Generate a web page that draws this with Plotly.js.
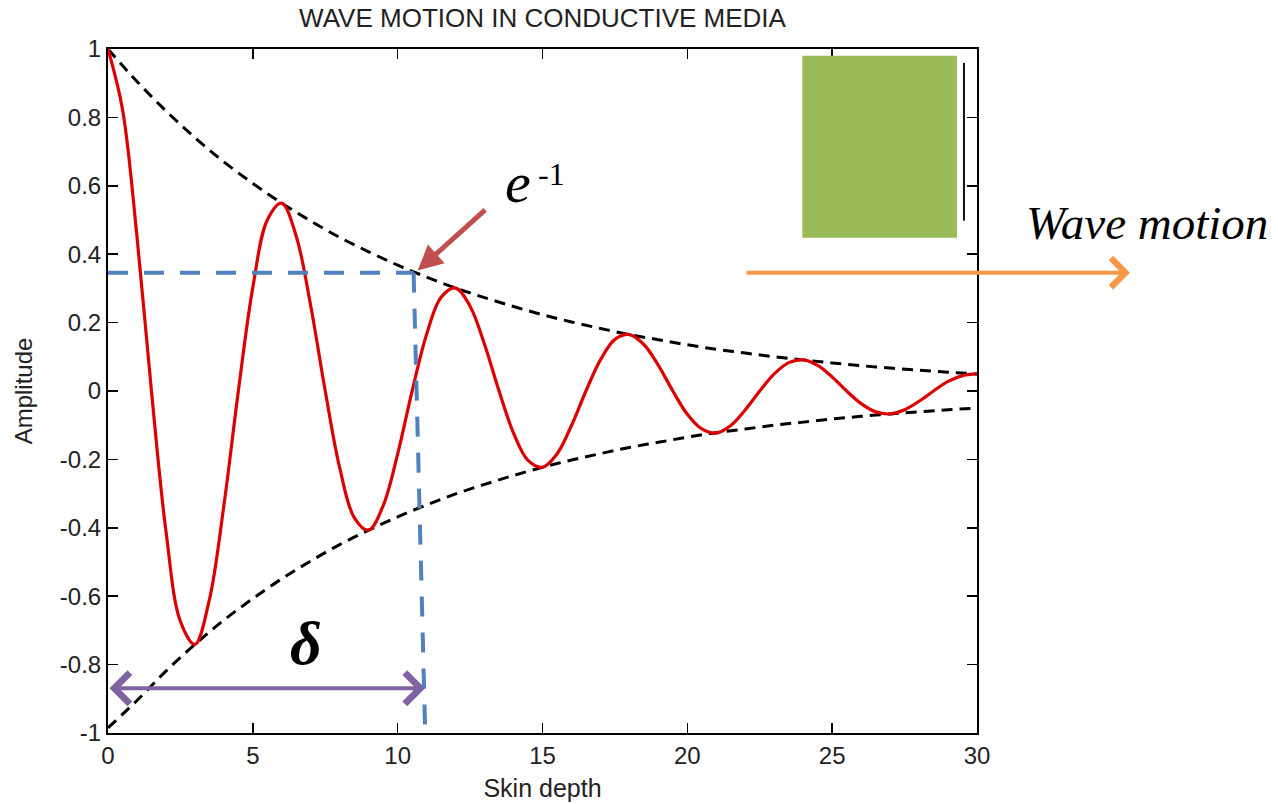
<!DOCTYPE html>
<html>
<head>
<meta charset="utf-8">
<script src="https://cdn.plot.ly/plotly-3.0.1.min.js"></script>
<style>html,body{margin:0;padding:0;background:#fff;}#chart{width:1278px;height:804px;}</style>
</head>
<body>
<div id="chart"></div>
<script>
// Skin depth positions (x) for the red wave
const waveX = [0,0.5,1,1.5,2,2.5,3,3.5,4,4.5,5,5.5,6,6.5,7,7.5,8,8.5,9,9.5,10,10.5,11,11.5,12,12.5,13,13.5,14,14.5,15,15.5,16,16.5,17,17.5,18,18.5,19,19.5,20,20.5,21,21.5,22,22.5,23,23.5,24,24.5,25,25.5,26,26.5,27,27.5,28,28.5,29,29.5,30];
const waveY = [1.00,0.824,0.452,0,-0.409,-0.674,-0.741,-0.610,-0.335,0,0.303,0.500,0.549,0.452,0.248,0,-0.225,-0.370,-0.407,-0.335,-0.184,0,0.166,0.274,0.301,0.248,0.136,0,-0.123,-0.203,-0.223,-0.184,-0.101,0,0.091,0.151,0.165,0.136,0.075,0,-0.068,-0.111,-0.123,-0.101,-0.055,0,0.050,0.083,0.091,0.075,0.041,0,-0.037,-0.061,-0.067,-0.055,-0.030,0,0.028,0.045,0.050];
// Envelope (black dashed)
const envX = [0,1,2,3,4,5,6,7,8,9,10,11,12,13,14,15,16,17,18,19,20,21,22,23,24,25,26,27,28,29,30];
const envUpper = [1.000,0.905,0.819,0.741,0.670,0.607,0.549,0.497,0.449,0.407,0.368,0.333,0.301,0.273,0.247,0.223,0.202,0.183,0.165,0.150,0.135,0.122,0.111,0.100,0.091,0.082,0.074,0.067,0.061,0.055,0.050];
const envLower = [-0.985,-0.905,-0.819,-0.741,-0.670,-0.607,-0.549,-0.497,-0.449,-0.407,-0.368,-0.333,-0.301,-0.273,-0.247,-0.223,-0.202,-0.183,-0.165,-0.150,-0.135,-0.122,-0.111,-0.100,-0.091,-0.082,-0.074,-0.067,-0.061,-0.055,-0.050];
// Tick labels
const xTickVals = [0,5,10,15,20,25,30];
const xTickText = ["0","5","10","15","20","25","30"];
const yTickVals = [-1,-0.8,-0.6,-0.4,-0.2,0,0.2,0.4,0.6,0.8,1];
const yTickText = ["-1","-0.8","-0.6","-0.4","-0.2","0","0.2","0.4","0.6","0.8","1"];
// Annotation values
const eInvLevel = 0.346;
const deltaEndTop = 10.55;
const deltaEndBottom = 10.95;
const deltaArrowY = -0.869;

const fontFam = '"Liberation Sans", Arial, sans-serif';
const serif = '"Liberation Serif", "Times New Roman", serif';

const traces = [
  {x: envX, y: envUpper, mode: 'lines', line: {color: '#000', width: 3, dash: '11px,7px', shape: 'spline'}, hoverinfo: 'skip'},
  {x: envX, y: envLower, mode: 'lines', line: {color: '#000', width: 3, dash: '11px,7px', shape: 'spline'}, hoverinfo: 'skip'},
  {x: waveX, y: waveY, mode: 'lines', line: {color: '#dd0000', width: 3.2, shape: 'spline', smoothing: 1}, hoverinfo: 'skip'}
];

const layout = {
  width: 1278, height: 804,
  margin: {l: 108, r: 301, t: 49, b: 71, pad: 0},
  paper_bgcolor: '#fff', plot_bgcolor: '#fff',
  showlegend: false,
  font: {family: fontFam, color: '#222', size: 22},
  title: {text: 'WAVE MOTION IN CONDUCTIVE MEDIA', font: {family: fontFam, size: 26, color: '#222'}, x: 0.4245, xanchor: 'center', y: 0.978, yanchor: 'middle'},
  xaxis: {
    range: [0, 30], tickvals: xTickVals, ticktext: xTickText,
    ticks: 'inside', ticklen: 10, tickwidth: 1.5, tickcolor: '#000',
    showline: true, linecolor: '#000', linewidth: 2, mirror: 'ticks',
    showgrid: false, zeroline: false, automargin: false,
    tickfont: {size: 24, color: '#222'},
    title: {text: 'Skin depth', font: {size: 25, color: '#222'}, standoff: 12}
  },
  yaxis: {
    range: [-1, 1], tickvals: yTickVals, ticktext: yTickText,
    ticks: 'inside', ticklen: 10, tickwidth: 1.5, tickcolor: '#000',
    showline: true, linecolor: '#000', linewidth: 2, mirror: 'ticks',
    showgrid: false, zeroline: false, automargin: false,
    tickfont: {size: 24, color: '#222'},
    title: {text: 'Amplitude', font: {size: 24, color: '#222'}, standoff: 20}
  },
  shapes: [
    // green block
    {type: 'rect', xref: 'x', yref: 'y', x0: 23.97, x1: 29.31, y0: 0.448, y1: 0.98, fillcolor: '#9BBB59', line: {width: 0}, layer: 'above'},
    {type: 'line', xref: 'x', yref: 'y', x0: 29.55, x1: 29.55, y0: 0.959, y1: 0.498, line: {color: '#111', width: 2}},
    // blue dashed e^-1 guides
    {type: 'line', xref: 'x', yref: 'y', x0: 0, x1: deltaEndTop, y0: eInvLevel, y1: eInvLevel, line: {color: '#4F81BD', width: 4, dash: '20px,16px'}},
    {type: 'line', xref: 'x', yref: 'y', x0: deltaEndTop, x1: deltaEndBottom, y0: eInvLevel, y1: -1, line: {color: '#4F81BD', width: 4, dash: '20px,16px'}}
  ],
  annotations: [
    // purple double arrow (delta)
    {xref: 'x', yref: 'y', x: deltaEndBottom, y: deltaArrowY, axref: 'x', ayref: 'y', ax: 0, ay: deltaArrowY,
     text: '', showarrow: true, arrowhead: 4, startarrowhead: 4, arrowside: 'end+start', arrowsize: 1.5, startarrowsize: 1.5, arrowwidth: 4, arrowcolor: '#8064A2'},
    {xref: 'x', yref: 'y', x: 6.83, y: -0.737, text: '<i><b>δ</b></i>', showarrow: false, font: {family: serif, size: 62, color: '#000'}},
    // e^-1 arrow
    {xref: 'x', yref: 'y', x: 10.69, y: 0.352, axref: 'pixel', ayref: 'pixel', ax: 69, ay: -62,
     text: '', showarrow: true, arrowhead: 2, arrowsize: 1, arrowwidth: 5, arrowcolor: '#C0504D'},
    {xref: 'paper', yref: 'paper', x: 0.4714, y: 0.805, text: '<i>e</i>', showarrow: false, font: {family: serif, size: 58, color: '#000'}, xanchor: 'center', yanchor: 'middle'},
    {xref: 'paper', yref: 'paper', x: 0.5098, y: 0.8175, text: '-1', showarrow: false, font: {family: serif, size: 32, color: '#000'}, xanchor: 'center', yanchor: 'middle'},
    // Wave motion arrow + label
    {xref: 'paper', yref: 'paper', x: 1.176, y: 0.673, axref: 'pixel', ayref: 'pixel', ax: -385, ay: 0,
     text: '', showarrow: true, arrowhead: 4, arrowsize: 1.4, arrowwidth: 4, arrowcolor: '#F79646'},
    {xref: 'paper', yref: 'paper', x: 1.1956, y: 0.745, text: '<i>Wave motion</i>', showarrow: false, font: {family: serif, size: 47, color: '#000'}, xanchor: 'center', yanchor: 'middle'}
  ]
};

Plotly.newPlot('chart', traces, layout, {displayModeBar: false, staticPlot: true});
</script>
</body>
</html>
